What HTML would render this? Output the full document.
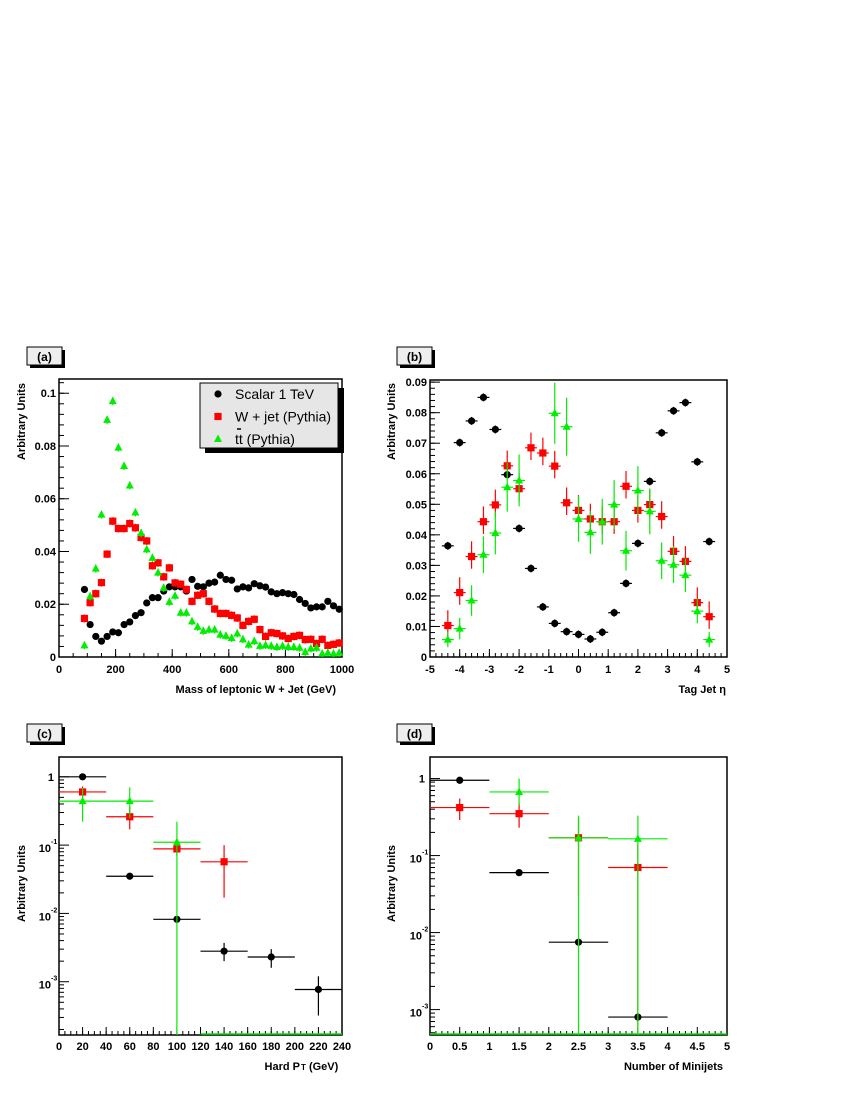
<!DOCTYPE html>
<html><head><meta charset="utf-8">
<style>
body{margin:0;background:#fff;}
svg{display:block;font-family:"Liberation Sans",sans-serif;}
text{font-weight:bold;font-size:11px;fill:#000;}
</style></head>
<body>
<svg id="fig" width="850" height="1100" viewBox="0 0 850 1100">
<rect width="850" height="1100" fill="#fff"/>
</svg>
<script>
// ---- panel (a) data ----
const massCenters = [90,110,130,150,170,190,210,230,250,270,290,310,330,350,370,390,410,430,450,470,490,510,530,550,570,590,610,630,650,670,690,710,730,750,770,790,810,830,850,870,890,910,930,950,970,990];
const massScalar = [0.0256,0.0123,0.0078,0.006,0.0078,0.0095,0.0092,0.0123,0.0133,0.0157,0.0168,0.0205,0.0225,0.0225,0.025,0.0266,0.0266,0.0266,0.025,0.0294,0.0268,0.0266,0.028,0.0284,0.031,0.0294,0.0291,0.0258,0.0266,0.0262,0.0278,0.027,0.0265,0.0247,0.024,0.0244,0.024,0.0237,0.0218,0.0203,0.0186,0.019,0.019,0.0211,0.0194,0.0181];
const massWjet = [0.0146,0.0206,0.024,0.0282,0.039,0.0515,0.0487,0.0487,0.0506,0.049,0.0453,0.044,0.0346,0.0357,0.0304,0.0338,0.0281,0.0276,0.0256,0.0211,0.0234,0.024,0.0211,0.0182,0.0165,0.0165,0.0158,0.0148,0.012,0.0135,0.0143,0.0104,0.0078,0.0092,0.0089,0.008,0.007,0.0078,0.0082,0.0066,0.0067,0.0051,0.0067,0.0044,0.0048,0.0053];
const massTtbar = [0.0044,0.023,0.0335,0.054,0.0899,0.097,0.0794,0.0724,0.065,0.0548,0.047,0.0408,0.0376,0.032,0.0262,0.0209,0.0232,0.0168,0.0168,0.0135,0.0114,0.0099,0.0104,0.0104,0.0085,0.008,0.0072,0.0089,0.0067,0.0047,0.006,0.0042,0.0045,0.0042,0.0038,0.0042,0.0038,0.0038,0.0035,0.0019,0.0032,0.0035,0.0013,0.0016,0.0013,0.0016];
// ---- panel (b) data ----
const etaCenters = [-4.4,-4.0,-3.6,-3.2,-2.8,-2.4,-2.0,-1.6,-1.2,-0.8,-0.4,0,0.4,0.8,1.2,1.6,2.0,2.4,2.8,3.2,3.6,4.0,4.4];
const etaScalar = [0.0364,0.0702,0.0773,0.085,0.0745,0.0597,0.0421,0.029,0.0164,0.011,0.0083,0.0074,0.0059,0.0081,0.0145,0.0241,0.0372,0.0575,0.0734,0.0806,0.0833,0.0639,0.0378];
const etaWjet = [0.0103,0.0211,0.0329,0.0443,0.0498,0.0626,0.0551,0.0685,0.0668,0.0625,0.0505,0.048,0.0452,0.0443,0.0443,0.0559,0.048,0.0499,0.046,0.0346,0.0313,0.0178,0.0132];
const etaTtbar = [0.0057,0.0093,0.0185,0.0335,0.0406,0.0556,0.0578,null,null,0.0798,0.0754,0.0452,0.0408,0.0443,0.0499,0.0348,0.0545,0.0477,0.0315,0.0302,0.0268,0.015,0.0057];
const etaTtbarErr = [0.0025,0.0035,0.005,0.006,0.007,0.008,0.0085,0,0,0.01,0.0095,0.0075,0.007,0.0075,0.008,0.0065,0.008,0.0075,0.006,0.006,0.0055,0.004,0.0025];
// ---- panel (c) data ----
const ptCenters = [20,60,100,140,180,220];
const ptScalar = [1.0,0.035,0.0082,0.0028,0.0023,0.00077];
const ptScalarLo = [0.95,0.033,0.0075,0.002,0.0016,0.00032];
const ptScalarHi = [1.05,0.037,0.009,0.0037,0.003,0.0012];
const ptWjet = [0.6,0.26,0.088,0.057,null,null];
const ptWjetLo = [0.5,0.17,0.07,0.017,null,null];
const ptWjetHi = [0.72,0.36,0.11,0.1,null,null];
const ptTtbar = [0.44,0.44,0.11,null,null,null];
const ptTtbarLo = [0.22,0.25,0,null,null,null];
const ptTtbarHi = [0.68,0.7,0.22,null,null,null];
// ---- panel (d) data ----
const njCenters = [0.5,1.5,2.5,3.5,4.5];
const njScalar = [0.95,0.06,0.0075,0.0008,null];
const njScalarLo = [0.9,0.057,0.0068,0.0007,null];
const njScalarHi = [1.0,0.063,0.0082,0.0009,null];
const njWjet = [0.42,0.35,0.17,0.07,null];
const njWjetLo = [0.29,0.23,0.03,0.0,null];
const njWjetHi = [0.55,0.48,0.31,0.14,null];
const njTtbar = [null,0.67,0.17,0.165,null];
const njTtbarLo = [null,0.45,0,0,null];
const njTtbarHi = [null,1.0,0.33,0.33,null];

const NS='http://www.w3.org/2000/svg';
const svg=document.getElementById('fig');
function el(tag,attrs,parent){const e=document.createElementNS(NS,tag);for(const k in attrs){if(k==='font-size')e.style.fontSize=attrs[k]+'px';else e.setAttribute(k,attrs[k]);}(parent||svg).appendChild(e);return e;}
const BLACK='#000',RED='#ff0000',GREEN='#00ee00';

function panelLabel(x,y,t){
  const g=el('g',{});
  
  
  el('rect',{x:x+3,y:y+3,width:35,height:18,fill:'#000'},g);
  el('rect',{x:x,y:y,width:35,height:18,fill:'#eee',stroke:'#000','stroke-width':1},g);
  const tx=el('text',{x:x+17.5,y:y+14,'text-anchor':'middle','font-size':'12'},g);tx.textContent='('+t+')';
}

function linAxis(v0,v1,p0,p1){return v=>p0+(v-v0)/(v1-v0)*(p1-p0);}
function logAxis(e0,e1,p0,p1){return v=>p0+(Math.log10(v)-e0)/(e1-e0)*(p1-p0);}

function frame(name,L,T,R,B){
  const r=el('rect',{x:L,y:T,width:R-L,height:B-T,fill:'#fff',stroke:'#000','stroke-width':1.5});
  
  
}

function marker(g,type,x,y,color){
  if(type==='circle') el('circle',{cx:x,cy:y,r:3.6,fill:color},g);
  else if(type==='square') el('rect',{x:x-3.6,y:y-3.6,width:7.2,height:7.2,fill:color},g);
  else el('polygon',{points:`${x},${y-4.5} ${x-4},${y+3} ${x+4},${y+3}`,fill:color},g);
}

function series(name,xs,ys,lo,hi,hw,X,Y,type,color,bottom){
  const g=el('g',{});
  
  
  xs.forEach((xv,i)=>{
    const v=ys[i]; if(v===null||v===undefined) return;
    const px=X(xv), py=Y(v);
    el('line',{x1:X(xv-hw),x2:X(xv+hw),y1:py,y2:py,stroke:color,'stroke-width':1.2},g);
    const yl=lo[i]<=0?bottom:Y(lo[i]), yh=Y(hi[i]);
    el('line',{x1:px,x2:px,y1:yh,y2:yl,stroke:color,'stroke-width':1.2},g);
    marker(g,type,px,py,color);
  });
}

function xTicks(X,vals,minor,T,B,labels,labY,name){
  const g=el('g',{});
  minor.forEach(v=>el('line',{x1:X(v),x2:X(v),y1:B,y2:B-4,stroke:'#000'},g));
  vals.forEach((v,i)=>{el('line',{x1:X(v),x2:X(v),y1:B,y2:B-8,stroke:'#000'},g);
    const t=el('text',{x:X(v),y:labY,'text-anchor':'middle'},g);t.textContent=labels[i];});
}
function yTicks(Y,vals,minor,L,labels,name){
  const g=el('g',{});
  minor.forEach(v=>el('line',{x1:L,x2:L+5,y1:Y(v),y2:Y(v),stroke:'#000'},g));
  vals.forEach((v,i)=>{el('line',{x1:L,x2:L+10,y1:Y(v),y2:Y(v),stroke:'#000'},g);
    const t=el('text',{x:L-3,y:Y(v)+4,'text-anchor':'end'},g);t.textContent=labels[i];});
}
function yLogLabels(Y,exps,L,T,B,name){
  const g=el('g',{});
  const minExp=Math.min(...exps)-1;
  for(let e=minExp;e<=1;e++){for(let k=1;k<=9;k++){const v=k*Math.pow(10,e);const y=Y(v);
    if(y<T||y>B) continue;
    el('line',{x1:L,x2:L+(k===1?10:5),y1:y,y2:y,stroke:'#000'},g);}}
  exps.forEach(e=>{
    const y=Y(Math.pow(10,e));
    if(e===0){const t=el('text',{x:L-5,y:y+4,'text-anchor':'end'},g);t.textContent='1';}
    else{const t=el('text',{x:L-8,y:y+7,'text-anchor':'end'},g);t.textContent='10';
      const s=el('text',{x:L-8,y:y-1,'font-size':'7','text-anchor':'start'},g);s.textContent=String(e);}
  });
}
function title(txt,x,y,name,rot,anchor){
  const t=el('text',{x:x,y:y,'text-anchor':anchor||'end'});
  if(rot) t.setAttribute('transform',`rotate(-90 ${x} ${y})`);
  t.textContent=txt;
  
  
  return t;
}
function range(a,b,s){const r=[];for(let v=a;v<=b+1e-9;v+=s)r.push(+v.toFixed(6));return r;}

// ===== Panel (a) =====
panelLabel(27,347,'a');
{const L=59,T=379,R=342,B=657;frame('mass',L,T,R,B);
const X=linAxis(0,1000,L,R),Y=linAxis(0,0.1054,B,T);
xTicks(X,range(0,1000,200),range(0,1000,50),T,B,['0','200','400','600','800','1000'],673,'mass-x-ticks');
yTicks(Y,range(0,0.1,0.02),range(0,0.104,0.004),L,['0','0.02','0.04','0.06','0.08','0.1'],'mass-y-ticks');
series('mass-scalar-series',massCenters,massScalar,massScalar.map(v=>v-0.0008),massScalar.map(v=>v+0.0008),0,X,Y,'circle',BLACK,B);
series('mass-wjet-series',massCenters,massWjet,massWjet.map(v=>v-0.0015),massWjet.map(v=>v+0.0015),0,X,Y,'square',RED,B);
series('mass-ttbar-series',massCenters,massTtbar,massTtbar.map(v=>v-0.0015),massTtbar.map(v=>v+0.0015),0,X,Y,'triangle',GREEN,B);
title('Mass of leptonic W + Jet (GeV)',336,693,'mass-x-axis-title');
title('Arbitrary Units',25,383,'mass-y-axis-title',true);
// legend
const g=el('g',{});
el('rect',{x:205,y:388,width:139,height:65,fill:'#000'},g);
el('rect',{x:200,y:383,width:138,height:65,fill:'#e6e6e6',stroke:'#000'},g);
const ents=[['circle',BLACK,'Scalar 1 TeV'],['square',RED,'W + jet (Pythia)'],['triangle',GREEN,'tt (Pythia)']];
ents.forEach((e,i)=>{const eg=el('g',{},g);
  
  
  const yy=394+i*22.5;marker(eg,e[0],218,yy,e[1]);
  const t=el('text',{x:235,y:yy+5,'font-size':'14'},eg);t.style.fontWeight='normal';t.textContent=e[2];
  if(i===2) el('line',{x1:237,x2:241,y1:yy-10,y2:yy-10,stroke:'#000','stroke-width':1.5},eg);
});
}

// ===== Panel (b) =====
panelLabel(397,347,'b');
{const L=430,T=380,R=727,B=657;frame('eta',L,T,R,B);
const X=linAxis(-5,5,L,R),Y=linAxis(0,0.0907,B,T);
xTicks(X,range(-5,5,1),range(-5,5,0.2),T,B,['-5','-4','-3','-2','-1','0','1','2','3','4','5'],673,'eta-x-ticks');
yTicks(Y,range(0,0.09,0.01),range(0,0.09,0.002),L,['0','0.01','0.02','0.03','0.04','0.05','0.06','0.07','0.08','0.09'],'eta-y-ticks');
series('eta-scalar-series',etaCenters,etaScalar,etaScalar.map(v=>v-0.0013),etaScalar.map(v=>v+0.0013),0.2,X,Y,'circle',BLACK,B);
series('eta-wjet-series',etaCenters,etaWjet,etaWjet.map(v=>v-0.004),etaWjet.map(v=>v+0.005),0.2,X,Y,'square',RED,B);
series('eta-ttbar-series',etaCenters,etaTtbar,etaTtbar.map((v,i)=>v===null?0:v-etaTtbarErr[i]),etaTtbar.map((v,i)=>v===null?0:v+etaTtbarErr[i]),0.2,X,Y,'triangle',GREEN,B);
title('Tag Jet \u03b7',726,693,'eta-x-axis-title');
title('Arbitrary Units',395,383,'eta-y-axis-title',true);
}

// ===== Panel (c) =====
panelLabel(27,724,'c');
{const L=59,T=757,R=342,B=1035;frame('pt',L,T,R,B);
const X=linAxis(0,240,L,R),Y=logAxis(-3.78,0.29,B,T);
xTicks(X,range(0,240,20),range(0,240,5),T,B,range(0,240,20).map(String),1050,'pt-x-ticks');
yLogLabels(Y,[0,-1,-2,-3],L,T,B,'pt-y-ticks');
el('line',{x1:X(120),x2:R,y1:B-1,y2:B-1,stroke:GREEN,'stroke-width':1.5});
series('pt-scalar-series',ptCenters,ptScalar,ptScalarLo,ptScalarHi,20,X,Y,'circle',BLACK,B);
series('pt-wjet-series',ptCenters,ptWjet,ptWjetLo,ptWjetHi,20,X,Y,'square',RED,B);
series('pt-ttbar-series',ptCenters,ptTtbar,ptTtbarLo,ptTtbarHi,20,X,Y,'triangle',GREEN,B);
title('Hard P',300,1070,'pt-x-axis-title');
const g=el('g',{});
const t2=el('text',{x:301,y:1070,'text-anchor':'start'},g);t2.innerHTML='<tspan style="font-size:8px">T</tspan> (GeV)';
title('Arbitrary Units',25,845,'pt-y-axis-title',true);
}

// ===== Panel (d) =====
panelLabel(397,724,'d');
{const L=430,T=757,R=727,B=1035;frame('minijets',L,T,R,B);
const X=linAxis(0,5,L,R),Y=logAxis(-3.33,0.28,B,T);
xTicks(X,range(0,5,0.5),range(0,5,0.1),T,B,['0','0.5','1','1.5','2','2.5','3','3.5','4','4.5','5'],1050,'minijets-x-ticks');
yLogLabels(Y,[0,-1,-2,-3],L,T,B,'minijets-y-ticks');
el('line',{x1:L,x2:R,y1:B-1,y2:B-1,stroke:GREEN,'stroke-width':1.5});
series('minijets-scalar-series',njCenters,njScalar,njScalarLo,njScalarHi,0.5,X,Y,'circle',BLACK,B);
series('minijets-wjet-series',njCenters,njWjet,njWjetLo,njWjetHi,0.5,X,Y,'square',RED,B);
series('minijets-ttbar-series',njCenters,njTtbar,njTtbarLo,njTtbarHi,0.5,X,Y,'triangle',GREEN,B);
title('Number of Minijets',723,1070,'minijets-x-axis-title');
title('Arbitrary Units',395,845,'minijets-y-axis-title',true);
}
</script>
</body></html>
